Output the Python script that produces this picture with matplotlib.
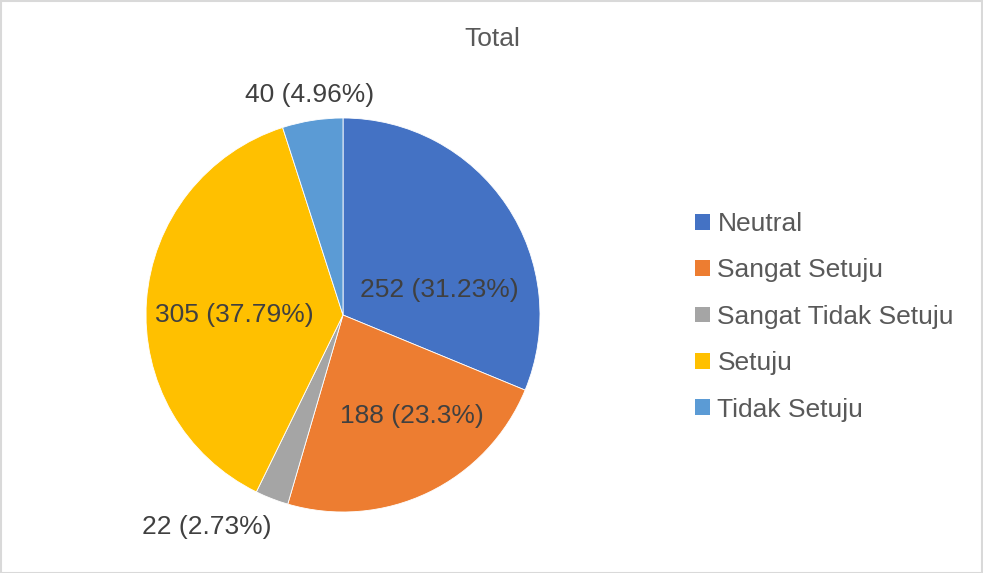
import matplotlib
matplotlib.use("Agg")
import matplotlib.pyplot as plt
from matplotlib.patches import Patch, Rectangle

categories = ["Neutral", "Sangat Setuju", "Sangat Tidak Setuju", "Setuju", "Tidak Setuju"]
counts = [252, 188, 22, 305, 40]
percents = ["31.23%", "23.3%", "2.73%", "37.79%", "4.96%"]
colors = ["#4472C4", "#ED7D31", "#A5A5A5", "#FFC000", "#5B9BD5"]
# label positions relative to pie radius (layout)
label_pos = [(0.49, 0.125), (0.35, -0.515), (-0.69, -1.075), (-0.55, 0.0), (-0.17, 1.115)]

plt.rcParams['font.family'] = ['Liberation Sans', 'DejaVu Sans']
W, H = 983, 573
fig = plt.figure(figsize=(W / 100, H / 100), dpi=100)

# pie axes: center (343,315) px, radius 197 px
cx, cy, R = 343, 315, 197
half = 220
ax = fig.add_axes([(cx - half) / W, (H - (cy + half)) / H, 2 * half / W, 2 * half / H])
ax.pie(counts, colors=colors, startangle=90, counterclock=False, radius=1,
       wedgeprops=dict(linewidth=0.6, edgecolor="white"))
lim = half / R
ax.set_xlim(-lim, lim)
ax.set_ylim(-lim, lim)
ax.set_aspect("equal")
ax.axis("off")

fs = 19
for c, p, (lx, ly) in zip(counts, percents, label_pos):
    ax.text(lx, ly, f"{c} ({p})", ha="center", va="center", fontsize=fs, color="#404040")

fig.text(492 / W, 1 - 39 / H, "Total", ha="center", va="center", fontsize=fs, color="#595959")

handles = [Patch(facecolor=col, edgecolor="none") for col in colors]
leg = fig.legend(handles, categories, loc="upper left", bbox_to_anchor=(695 / W, 1 - 212 / H),
                 frameon=False, fontsize=fs, handlelength=0.55, handleheight=0.55,
                 handletextpad=0.3, labelspacing=0.85, borderpad=0, borderaxespad=0)
for t in leg.get_texts():
    t.set_color("#595959")

fig.patches.append(Rectangle((0.5 / W, 0.5 / H), 1 - 1.5 / W, 1 - 1.5 / H, transform=fig.transFigure,
                             fill=False, edgecolor="#D9D9D9", linewidth=1.5))

fig.savefig("out.png", dpi=100, facecolor="white")
